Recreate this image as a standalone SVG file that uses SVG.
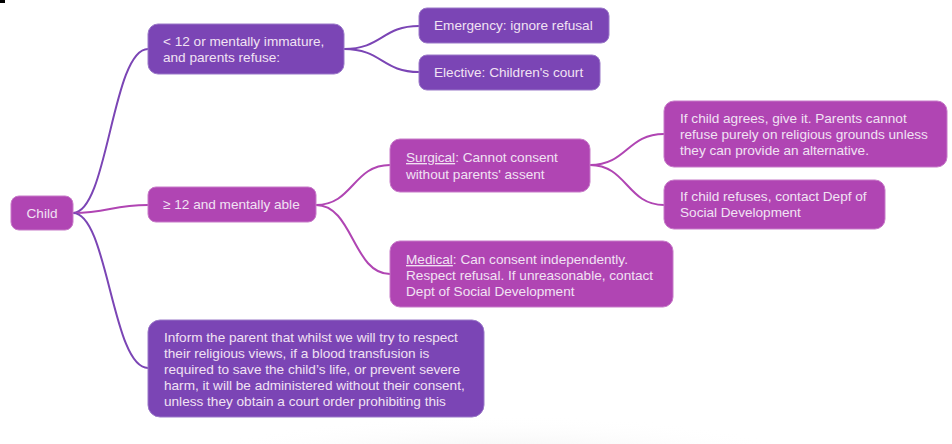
<svg xmlns="http://www.w3.org/2000/svg" width="952" height="444" viewBox="0 0 952 444">
<defs>
<radialGradient id="shade" cx="0.5" cy="0.5" r="0.5">
<stop offset="0" stop-color="#e6e6e6"/>
<stop offset="1" stop-color="#ffffff" stop-opacity="0"/>
</radialGradient>
<style>
.dk{fill:#7b45b5;stroke:#9a78c8;stroke-width:1}
.mg{fill:#b045b3;stroke:#c77ac8;stroke-width:1}
text{font-family:"Liberation Sans",Arial,sans-serif;font-size:13.6px;fill:#f1e2f3}
.cd{stroke:#7b45b5;stroke-width:2;fill:none}
.cm{stroke:#b045b3;stroke-width:2;fill:none}
.u{text-decoration:underline}
</style>
</defs>
<rect width="952" height="444" fill="#ffffff"/>
<ellipse cx="500" cy="470" rx="330" ry="55" fill="url(#shade)"/>
<rect x="0" y="0" width="5" height="3" fill="#000000"/>
<g id="connectors">
<path class="cd" d="M73,213 C108,213 112,49 148,49"/>
<path class="cm" d="M73,213 C108,213 112,205 148,205"/>
<path class="cd" d="M73,213 C108,213 112,368 148,368"/>
<path class="cd" d="M344,49 C382,49 382,26 419,26"/>
<path class="cd" d="M344,49 C382,49 382,72 419,72"/>
<path class="cm" d="M316,205 C353,205 353,165 390,165"/>
<path class="cm" d="M316,205 C353,205 353,274 390,274"/>
<path class="cm" d="M590,165 C627,165 627,134 664,134"/>
<path class="cm" d="M590,165 C627,165 627,205 664,205"/>
</g>
<g id="child">
<rect class="mg" x="11" y="196" width="62" height="34" rx="8"/>
<text x="42" y="218" text-anchor="middle">Child</text>
</g>
<g id="under12">
<rect class="dk" x="148" y="24" width="196" height="50" rx="10"/>
<text x="163" y="46">&lt; 12 or mentally immature,</text>
<text x="163" y="62">and parents refuse:</text>
</g>
<g id="emergency">
<rect class="dk" x="419" y="8" width="190" height="35" rx="8"/>
<text x="434" y="30">Emergency: ignore refusal</text>
</g>
<g id="elective">
<rect class="dk" x="419" y="55" width="181" height="35" rx="8"/>
<text x="434" y="77">Elective: Children's court</text>
</g>
<g id="over12">
<rect class="mg" x="148" y="187" width="168" height="35" rx="8"/>
<text x="163" y="209">≥ 12 and mentally able</text>
</g>
<g id="surgical">
<rect class="mg" x="390" y="139" width="200" height="53" rx="10"/>
<text x="406" y="162"><tspan class="u">Surgical</tspan>: Cannot consent</text>
<text x="406" y="179">without parents' assent</text>
</g>
<g id="agrees">
<rect class="mg" x="664" y="101" width="283" height="66" rx="10"/>
<text x="680" y="123">If child agrees, give it. Parents cannot</text>
<text x="680" y="139">refuse purely on religious grounds unless</text>
<text x="680" y="155">they can provide an alternative.</text>
</g>
<g id="refuses">
<rect class="mg" x="664" y="180" width="221" height="49" rx="10"/>
<text x="680" y="201">If child refuses, contact Depf of</text>
<text x="680" y="217">Social Development</text>
</g>
<g id="medical">
<rect class="mg" x="390" y="241" width="283" height="66" rx="10"/>
<text x="406" y="264"><tspan class="u">Medical</tspan>: Can consent independently.</text>
<text x="406" y="280">Respect refusal. If unreasonable, contact</text>
<text x="406" y="296">Dept of Social Development</text>
</g>
<g id="inform">
<rect class="dk" x="148" y="320" width="336" height="97" rx="12"/>
<text x="164" y="342">Inform the parent that whilst we will try to respect</text>
<text x="164" y="358">their religious views, if a blood transfusion is</text>
<text x="164" y="374">required to save the child’s life, or prevent severe</text>
<text x="164" y="390">harm, it will be administered without their consent,</text>
<text x="164" y="406">unless they obtain a court order prohibiting this</text>
</g>
</svg>
